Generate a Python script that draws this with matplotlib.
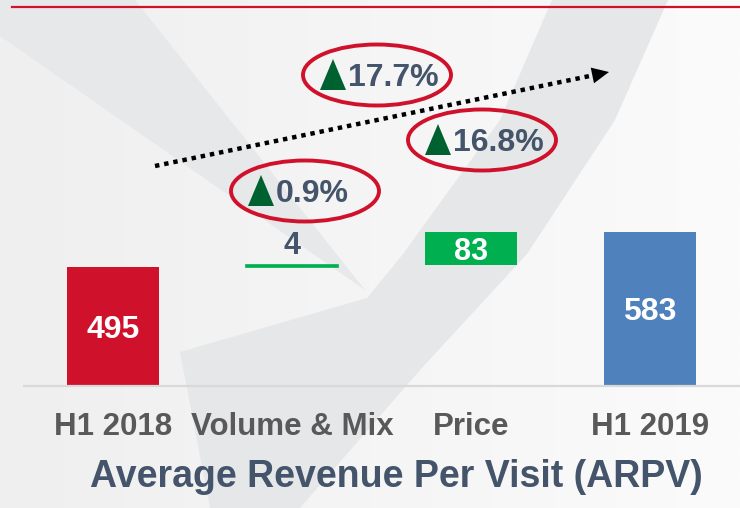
import matplotlib.pyplot as plt
import numpy as np
from matplotlib.patches import Polygon, Ellipse
from matplotlib.colors import LinearSegmentedColormap

plt.rcParams['font.family'] = ['Liberation Sans', 'DejaVu Sans']
plt.rcParams['font.weight'] = 'bold'

# data
categories = ['H1 2018', 'Volume & Mix', 'Price', 'H1 2019']
start_value = 495
steps = [4, 83]
end_value = 583
growth_labels = ['0.9%', '16.8%', '17.7%']

RED = '#d0112b'
GREEN = '#00b050'
BLUE = '#4f81bd'
SLATE = '#44546a'

W, H = 740, 508
fig = plt.figure(figsize=(W / 100, H / 100), dpi=100)

# background with grey swooshes
bg = fig.add_axes([0, 0, 1, 1], zorder=0)
bg.set_xlim(0, W)
bg.set_ylim(H, 0)
bg.axis('off')
cmap = LinearSegmentedColormap.from_list('bg', ['#efefef', '#f5f5f5', '#fbfbfb'])
bg.imshow(np.linspace(0, 1, 256).reshape(1, -1), cmap=cmap, extent=[0, W, H, 0], aspect='auto')
bg.add_patch(Polygon([(0, 0), (135, 0), (365, 290), (0, 36)], closed=True, color='#e7e8ea', lw=0))
bg.add_patch(Polygon([(552, 0), (668, 0), (615, 120), (527, 254), (420, 370), (300, 508),
                      (210, 508), (180, 352), (367, 298), (403, 254), (500, 120)],
                     closed=True, color='#e6e7e9', lw=0))

# waterfall axes
ax = fig.add_axes([23.5 / W, (H - 386) / H, 716 / W, 376 / H], zorder=1)
ax.patch.set_visible(False)
px_per_unit = (267 - 232) / (end_value - start_value)
y0 = start_value - (386 - 267) / px_per_unit
ax.set_ylim(y0, y0 + 376 / px_per_unit)
ax.set_xlim(-0.5, 3.5)

x = np.arange(len(categories))
price_bottom = start_value + steps[0]
ax.bar(x[0], start_value - y0, bottom=y0, width=0.51, color=RED)
ax.bar(x[1], steps[0], bottom=start_value, width=0.51, color=GREEN, edgecolor=GREEN, lw=1.2)
ax.bar(x[2], steps[1], bottom=price_bottom, width=0.51, color=GREEN)
ax.bar(x[3], end_value - y0, bottom=y0, width=0.51, color=BLUE)
ax.axhline(y0, color='#d9d9d9', lw=1.6, clip_on=False)

ax.text(x[0], (start_value + y0) / 2, str(start_value), ha='center', va='center_baseline',
        color='white', fontsize=23)
ax.annotate(str(steps[0]), (x[1], start_value + steps[0]), xytext=(0, 8), textcoords='offset points',
            ha='center', va='baseline', color=SLATE, fontsize=22)
ax.text(x[2], price_bottom + steps[1] / 2, str(steps[1]), ha='center', va='center_baseline',
        color='white', fontsize=22)
ax.text(x[3], (end_value + y0) / 2, str(end_value), ha='center', va='center_baseline',
        color='white', fontsize=23)

ax.set_xticks(x, categories, fontsize=22.5, color='#595959')
ax.tick_params(length=0, pad=19)
ax.set_yticks([])
for s in ax.spines.values():
    s.set_visible(False)

# overlay: header line, title, growth badges, trend arrow
ov = fig.add_axes([0, 0, 1, 1], zorder=2)
ov.set_xlim(0, W)
ov.set_ylim(H, 0)
ov.axis('off')
ov.plot([12, W], [7, 7], color=RED, lw=1.6)
ov.text(396, 477, 'Average Revenue Per Visit (ARPV)', ha='center', va='center',
        fontsize=27, color=SLATE)

badges = [(305, 191), (482, 140), (377, 75)]
for (cx, cy), lab in zip(badges, growth_labels):
    ov.add_patch(Ellipse((cx, cy), 148, 61, fill=False, ec=RED, lw=2.8))
    tx = cx - 57
    by = cy + 15
    ov.add_patch(Polygon([(tx, by), (tx + 26, by), (tx + 13, by - 31)], closed=True,
                         color='#006130', lw=0))
    ov.text(tx + 28, cy + 3, lab, ha='left', va='center', fontsize=23, color=SLATE)

start = np.array([155.0, 166.0])
tip = np.array([609.0, 72.0])
d = (tip - start) / np.linalg.norm(tip - start)
perp = np.array([-d[1], d[0]])
base = tip - 17 * d
ov.plot([start[0], base[0] + 2 * d[0]], [start[1], base[1] + 2 * d[1]], color='black', lw=3.2,
        linestyle=(0, (1, 1.1)), dash_capstyle='butt')
ov.add_patch(Polygon([tip, base + 8 * perp, base - 8 * perp], closed=True, color='black', lw=0))

fig.savefig('out.png', dpi=100)
